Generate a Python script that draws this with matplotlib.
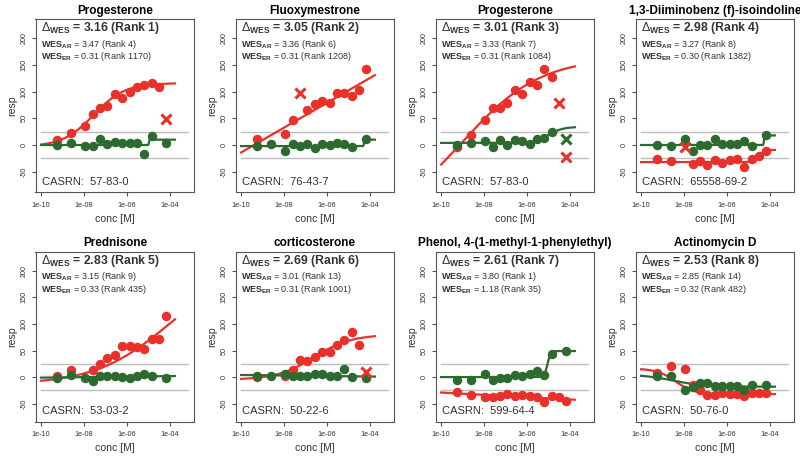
import numpy as np
import matplotlib.pyplot as plt

plt.rcParams['font.family'] = ['Liberation Sans', 'DejaVu Sans']
plt.rcParams['mathtext.fontset'] = 'custom'
plt.rcParams['mathtext.rm'] = 'Liberation Sans'
plt.rcParams['mathtext.bf'] = 'Liberation Sans:bold'
plt.rcParams['mathtext.it'] = 'Liberation Sans:italic'

RED = '#ea302a'
GREEN = '#2d6a2f'
TXT = '#333333'
EDGE = '#555555'

# log10 of the tested concentrations [M]
conc_log = [-9.28, -8.62, -7.95, -7.6, -7.26, -6.92, -6.57, -6.22, -5.88, -5.54, -5.2, -4.86, -4.5, -4.17]

names = ["Progesterone", "Fluoxymestrone", "Progesterone", "1,3-Diiminobenz (f)-isoindoline",
         "Prednisone", "corticosterone", "Phenol, 4-(1-methyl-1-phenylethyl)", "Actinomycin D"]
d_wes = ["3.16", "3.05", "3.01", "2.98", "2.83", "2.69", "2.61", "2.53"]
wes_ar = ["3.47 (Rank 4)", "3.36 (Rank 6)", "3.33 (Rank 7)", "3.27 (Rank 8)",
          "3.15 (Rank 9)", "3.01 (Rank 13)", "3.80 (Rank 1)", "2.85 (Rank 14)"]
wes_er = ["0.31 (Rank 1170)", "0.31 (Rank 1208)", "0.31 (Rank 1084)", "0.30 (Rank 1382)",
          "0.33 (Rank 435)", "0.31 (Rank 1001)", "1.18 (Rank 35)", "0.32 (Rank 482)"]
casrn = ["57-83-0", "76-43-7", "57-83-0", "65558-69-2", "53-03-2", "50-22-6", "599-64-4", "50-76-0"]

N = None
# red series (AR assay), one value per concentration, None = not shown
red_resp = [
    [9, 23, 36, 59, 70, 74, 95, 89, 100, 108, 113, 116, 108, N],
    [11, N, 21, 46, N, 66, 76, 82, 79, 97, 97, 92, 104, 143],
    [-3, 19, 46, 70, 69, 79, 104, 96, 119, 112, 142, 128, N, N],
    [-26, -30, N, -36, -30, -37, -28, -34, -28, -27, -42, -27, -21, -11],
    [2.5, 12.5, N, 14, 24, 36, 41, 58, 58, 57, 53, 72, 72, 114],
    [0, N, 3, 14, 33, 30, 37, 47, 47, 61, 70, 84, 61, N],
    [-28, -33, -37.5, -37.5, -36, -31, -36, -34, -36, -37.5, -46, -36, -37.5, -44],
    [7, 21, 15, -15, -25, -34, -34, -30, -31, -31, -36, -29, -30, -30],
]
# green series (ER assay)
green_resp = [
    [0, 4, -1, -1, 11, 1, 6, 4, 3, 4, -17, 17, N, 4],
    [-1, 2, -11, 2, -1, 2, -5, 2, 0, 3, 2, -3, N, 11],
    [0, 3, 8, -4, 9, 0, 9, 8, 1, 11, 14, 25, N, N],
    [0, -1, 12, -12, 0, 0, 12, 2, 2, 2, 7, -1, N, 18],
    [-1, 4, -2, -8, 3, 3, 3, 1, -1, 3, 5, 3, N, -2],
    [3, 3, 6, 2, 3, 3, 6, 6, 2, 3, 16, 1, N, -1],
    [-5, -6, 6, -6, -2, -2, 4, 2, 6, 11, 4, 44, N, 50],
    [2, 2, -24, -19, -12, -12, -17, -17, -17, -17, -24, -15, N, -15],
]
# flagged points drawn as crosses: (concentration index, resp)
red_flag = [[(13, 49)], [(4, 98)], [(12, 78), (13, -23)], [(2, -3)], [], [(13, 9)], [], []]
green_flag = [[], [], [(13, 11)], [], [], [], [], []]

# fitted models: ("hill", low, high, log_ac50, slope) or ("line", start, end)
red_fit = [
    ("hill", -3, 116, -7.55, 0.6),
    ("line", -14, 131),
    ("hill", -152, 164, -9.0, 0.24),
    ("hill", -32, -9, -4.5, 3.0),
    ("hill", -14, 216, -4.0, 0.25),
    ("hill", -5, 80, -6.6, 0.5),
    ("line", -29, -42.5),
    ("hill", 16, -32, -8.4, 1.0),
]
green_fit = [
    ("hill", 0, 10, -4.98, 40),
    ("hill", -2, 10, -4.28, 40),
    ("hill", 4, 34, -5.0, 1.3),
    ("hill", 0, 18, -4.28, 40),
    ("line", -1, 2),
    ("line", 4, 1),
    ("hill", 0, 49, -5.05, 6),
    ("hill", 5, -18, -8.5, 0.6),
]


def model(fit, x):
    if fit[0] == "line":
        return fit[1] + (fit[2] - fit[1]) * (x - x[0]) / (x[-1] - x[0])
    _, lo, hi, ac, n = fit
    return lo + (hi - lo) / (1 + 10 ** ((ac - x) * n))


W, H = 800, 461
fig = plt.figure(figsize=(8, 4.61), dpi=100)

row_top = [19.3, 251.7]
row_bot = [192.3, 421.7]
row_ylim = [(-88.6, 235.6), (-83.8, 235.7)]

xc = np.linspace(-10, -3.77, 300)

for i in range(8):
    r, c = divmod(i, 4)
    L = 35.5 + 200 * c
    R = 194.3 + 200 * c
    T, B = row_top[r], row_bot[r]
    ax = fig.add_axes([L / W, 1 - B / H, (R - L) / W, (B - T) / H])

    for yy in (25, -25):
        ax.plot([1e-10, 10 ** -3.15], [yy, yy], color='#bdbdbd', lw=1, zorder=1)

    cx = np.array(conc_log)
    for resp, fit, col in ((red_resp[i], red_fit[i], RED), (green_resp[i], green_fit[i], GREEN)):
        xs = [10 ** cx[k] for k, v in enumerate(resp) if v is not None]
        ys = [v for v in resp if v is not None]
        ax.plot(xs, ys, 'o', color=col, ms=5.8, mec=col, zorder=3)
        ax.plot(10 ** xc, model(fit, xc), color=col, lw=1.6, zorder=2)
    for flags, col in ((red_flag[i], RED), (green_flag[i], GREEN)):
        for k, v in flags:
            ax.plot(10 ** cx[k], v, 'x', color=col, ms=7, mew=2.2, zorder=4)

    ax.set_xscale('log')
    ax.set_xlim(10 ** -10.26, 10 ** -2.87)
    ax.set_ylim(*row_ylim[r])
    ax.set_xticks([1e-10, 1e-8, 1e-6, 1e-4])
    ax.set_xticklabels(["1e-10", "1e-08", "1e-06", "1e-04"])
    ax.minorticks_off()
    ax.set_yticks([-50, 0, 50, 100, 150, 200])
    ax.set_yticklabels(["-50", "0", "50", "100", "150", "200"], rotation=90, va='center')
    ax.tick_params(labelsize=5.2, length=3, width=0.8, color=EDGE, labelcolor=TXT, pad=2.5)
    ax.tick_params(axis='x', pad=4)
    for s in ax.spines.values():
        s.set_color(EDGE)
        s.set_linewidth(0.8)
    ax.set_xlabel("conc [M]", fontsize=7.6, color=TXT, labelpad=3.5)
    ax.set_ylabel("resp", fontsize=7.6, color=TXT, labelpad=2.5)

    fig.text((L + R) / 2 / W, 1 - (T - 8.3) / H, names[i], ha='center', va='center',
             fontsize=8.5, fontweight='bold', color='black')
    fig.text((L + 5.2) / W, 1 - (T + 9) / H,
             r"$\Delta_{\mathbf{WES}}$" + " = %s (Rank %d)" % (d_wes[i], i + 1),
             ha='left', va='center', fontsize=8.8, fontweight='bold', color=TXT)
    fig.text((L + 5.2) / W, 1 - (T + 25) / H,
             r"$\mathbf{WES_{AR}}$" + " = " + wes_ar[i],
             ha='left', va='center', fontsize=6.5, color=TXT)
    fig.text((L + 5.2) / W, 1 - (T + 37.4) / H,
             r"$\mathbf{WES_{ER}}$" + " = " + wes_er[i],
             ha='left', va='center', fontsize=6.5, color=TXT)
    fig.text((L + 6.2) / W, 1 - (B - 10.6) / H, "CASRN:  " + casrn[i],
             ha='left', va='center', fontsize=8, color=TXT)

fig.savefig("out.png", dpi=100)
